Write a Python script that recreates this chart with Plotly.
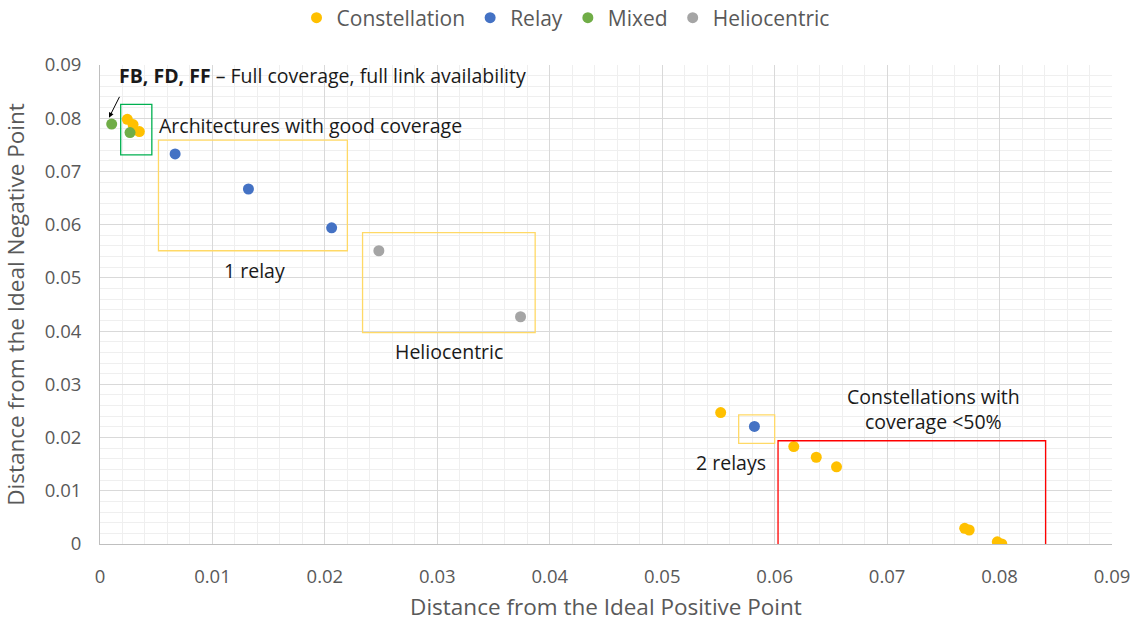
import plotly.graph_objects as go

# ---- data ----
series_names = ["Constellation", "Relay", "Mixed", "Heliocentric"]
series_colors = ["#FFC000", "#4472C4", "#70AD47", "#A5A5A5"]

const_x = [0.00243, 0.00294, 0.0035, 0.0552, 0.0617, 0.0637, 0.0655, 0.0769, 0.0773, 0.0798, 0.0802]
const_y = [0.0798, 0.0788, 0.0775, 0.0247, 0.0183, 0.0163, 0.0145, 0.00295, 0.00263, 0.0004, 0.0000]

relay_x = [0.00668, 0.0132, 0.0206, 0.0582]
relay_y = [0.0733, 0.0667, 0.0594, 0.0221]

mixed_x = [0.00104, 0.00267]
mixed_y = [0.0789, 0.0773]

helio_x = [0.0248, 0.0374]
helio_y = [0.0551, 0.0427]

tick_vals = [0, 0.01, 0.02, 0.03, 0.04, 0.05, 0.06, 0.07, 0.08, 0.09]
tick_text = ["0", "0.01", "0.02", "0.03", "0.04", "0.05", "0.06", "0.07", "0.08", "0.09"]

xs = [const_x, relay_x, mixed_x, helio_x]
ys = [const_y, relay_y, mixed_y, helio_y]

FONT = "Open Sans"
GRAY = "#595959"
TXT = "#1a1a1a"

fig = go.Figure()
for name, col, x, y in zip(series_names, series_colors, xs, ys):
    fig.add_trace(go.Scatter(x=x, y=y, mode="markers", name=name,
                             marker=dict(color=col, size=11, line=dict(width=0))))

grid_major = "#D9D9D9"
grid_minor = "#EFEFEF"

fig.update_xaxes(range=[0, 0.09], tickvals=tick_vals, ticktext=tick_text,
                 showgrid=True, gridcolor=grid_major, gridwidth=1,
                 minor=dict(dtick=0.002, showgrid=True, gridcolor=grid_minor),
                 zeroline=False, showline=True, linecolor="#BFBFBF", automargin=False,
                 ticks="outside", ticklen=16, tickcolor="rgba(0,0,0,0)",
                 tickfont=dict(family=FONT, size=18.5, color=GRAY),
                 title=dict(text="Distance from the Ideal Positive Point",
                            font=dict(family=FONT, size=22.5, color=GRAY)))
fig.update_yaxes(range=[0, 0.09], tickvals=tick_vals, ticktext=tick_text,
                 showgrid=True, gridcolor=grid_major, gridwidth=1,
                 minor=dict(dtick=0.002, showgrid=True, gridcolor=grid_minor),
                 zeroline=False, showline=True, linecolor="#BFBFBF", automargin=False,
                 ticks="outside", ticklen=14, tickcolor="rgba(0,0,0,0)",
                 tickfont=dict(family=FONT, size=18.5, color=GRAY),
                 title=dict(text="Distance from the Ideal Negative Point",
                            font=dict(family=FONT, size=22.5, color=GRAY), standoff=20))

box_yellow = "#FFD966"
shapes = [
    dict(x0=0.00184, x1=0.00461, y0=0.0731, y1=0.0826, color="#00B050"),
    dict(x0=0.0052, x1=0.0220, y0=0.0551, y1=0.0759, color=box_yellow),
    dict(x0=0.02335, x1=0.0387, y0=0.0397, y1=0.0585, color=box_yellow),
    dict(x0=0.0568, x1=0.0600, y0=0.0189, y1=0.02425, color=box_yellow),
    dict(x0=0.0603, x1=0.0841, y0=-0.0002, y1=0.0194, color="#FF0000"),
]
for s in shapes:
    fig.add_shape(type="rect", xref="x", yref="y", x0=s["x0"], x1=s["x1"],
                  y0=s["y0"], y1=s["y1"], line=dict(color=s["color"], width=1.3),
                  fillcolor="rgba(0,0,0,0)")

def ann(text, x, y, xanchor="center"):
    fig.add_annotation(text=text, x=x, y=y, xref="x", yref="y", showarrow=False,
                       xanchor=xanchor, yanchor="middle",
                       font=dict(family=FONT, size=19.5, color=TXT))

ann("<b>FB, FD, FF</b> – Full coverage, full link availability", 0.0015, 0.088, "left")
ann("Architectures with good coverage", 0.0051, 0.0786, "left")
ann("1 relay", 0.01373, 0.0513)
ann("Heliocentric", 0.0310, 0.0361)
ann("2 relays", 0.0561, 0.0154)
ann("Constellations with<br>coverage &lt;50%", 0.0741, 0.0254)

fig.add_annotation(x=0.0008, y=0.0801, ax=0.0018, ay=0.0843, xref="x", yref="y",
                   axref="x", ayref="y", showarrow=True, arrowhead=2, arrowsize=1,
                   arrowwidth=1, arrowcolor="#000000", text="")

fig.update_layout(
    width=1142, height=622,
    margin=dict(l=100, r=30, t=65, b=78, autoexpand=False),
    plot_bgcolor="white", paper_bgcolor="white",
    legend=dict(orientation="h", x=0.46, xanchor="center", y=1.098, yanchor="middle",
                font=dict(family=FONT, size=21, color=GRAY),
                itemwidth=30, tracegroupgap=0),
    showlegend=True,
)

fig.write_html("out.html", config={"displayModeBar": False},
               post_script="document.body.style.margin='0';")
